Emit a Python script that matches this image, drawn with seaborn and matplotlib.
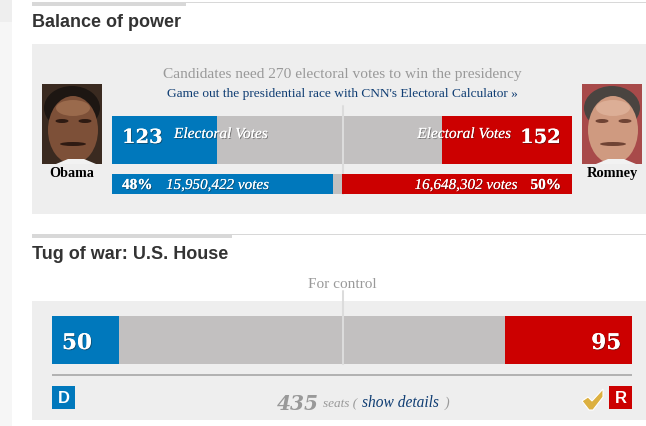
import matplotlib
matplotlib.use("Agg")
import matplotlib.pyplot as plt
import matplotlib.patheffects as pe
from matplotlib.patches import Rectangle, Ellipse, Polygon
import seaborn as sns

W, H = 646, 426

# values
candidates = ["Obama", "Romney"]
electoral_votes = [123, 152]
electoral_total = 538
electoral_needed = 270
popular_pct = [48, 50]
popular_total = 100
popular_votes = ["15,950,422 votes", "16,648,302 votes"]
house_seats = [50, 95]
house_total = 435
house_needed = 218

BLUE = "#0078bc"
RED = "#cc0000"
GREY = "#c2c0c0"
PANEL = "#eeeeee"
RULE = "#d8d8d8"
NAVY = "#0f3d73"
SERIF = "Liberation Serif"
NUMS = "DejaVu Serif"
SANS = "Liberation Sans"

sns.set_theme(style="white")
plt.rcParams["font.family"] = [SERIF, "DejaVu Serif"]

fig = plt.figure(figsize=(W / 100, H / 100), dpi=100, facecolor="white")


def px_axes(x, y, w, h, zorder):
    ax = fig.add_axes([x / W, 1 - (y + h) / H, w / W, h / H], zorder=zorder)
    ax.axis("off")
    return ax


def tug_bar(x, y, w, h, left, right, total):
    # painted back to front: red full length, grey up to red, blue on top
    ax = px_axes(x, y, w, h, 2)
    for val, col in [(total, RED), (total - right, GREY), (left, BLUE)]:
        sns.barplot(x=[val], y=["seats"], orient="h", color=col, saturation=1,
                    width=1, linewidth=0, ax=ax)
    ax.set_xlim(0, total)
    ax.set_ylim(0.5, -0.5)
    ax.axis("off")
    return ax


# page furniture in pixel coordinates
page = px_axes(0, 0, W, H, 0)
page.set_xlim(0, W)
page.set_ylim(H, 0)
for x0, y0, w0, h0, col in [
    (0, 0, 12, 426, "#f6f6f6"), (0, 0, 12, 22, "#eeeeee"),
    (32, 2, 614, 1, RULE), (32, 2, 154, 4, RULE),
    (32, 44, 614, 170, PANEL),
    (32, 234, 614, 1, RULE), (32, 234, 200, 4, RULE),
    (32, 301, 614, 119, PANEL),
    (52, 374, 580, 2, "#b2b2b2"),
]:
    page.add_patch(Rectangle((x0, y0), w0, h0, fc=col, ec="none"))

# bars
ev_ax = tug_bar(112, 116, 460, 48, electoral_votes[0], electoral_votes[1], electoral_total)
pop_ax = tug_bar(112, 174, 460, 20, popular_pct[0], popular_pct[1], popular_total)
house_ax = tug_bar(52, 316, 580, 48, house_seats[0], house_seats[1], house_total)

# threshold markers run past the bars
ev_ax.axvline(electoral_needed, ymin=-30 / 48, ymax=58 / 48, color="#dcdcdc", lw=1.45, clip_on=False)
house_ax.axvline(house_needed, ymin=0, ymax=73 / 48, color="#dcdcdc", lw=1.45, clip_on=False)

# text layer
top = px_axes(0, 0, W, H, 5)
top.set_xlim(0, W)
top.set_ylim(H, 0)
shadow = [pe.withSimplePatchShadow(offset=(0.7, -0.7), shadow_rgbFace="#222222", alpha=0.45), pe.Normal()]


def label(x, y, s, size, color="white", ha="left", weight="normal", style="normal",
          family=SERIF, fx=None):
    t = top.text(x, y, s, fontsize=size, color=color, ha=ha, va="baseline",
                 fontweight=weight, fontstyle=style, family=family)
    if fx:
        t.set_path_effects(fx)
    return t


label(32, 27, "Balance of power", 13, "#333333", weight="bold", family=SANS)
label(32, 259, "Tug of war: U.S. House", 13, "#333333", weight="bold", family=SANS)
label(342, 78, "Candidates need 270 electoral votes to win the presidency", 11.1, "#999999", ha="center")
label(342, 97, "Game out the presidential race with CNN's Electoral Calculator »", 9.6, NAVY, ha="center")
label(342, 288, "For control", 11, "#999999", ha="center")

label(122, 143, str(electoral_votes[0]), 14, weight="bold", family=NUMS, fx=shadow)
label(561, 143, str(electoral_votes[1]), 14, ha="right", weight="bold", family=NUMS, fx=shadow)
label(174, 138, "Electoral Votes", 11.1, style="italic", fx=shadow)
label(511, 138, "Electoral Votes", 11.1, ha="right", style="italic", fx=shadow)

label(122, 189, f"{popular_pct[0]}%", 11, weight="bold", fx=shadow)
label(561, 189, f"{popular_pct[1]}%", 11, ha="right", weight="bold", fx=shadow)
label(166, 189, popular_votes[0], 10.9, style="italic", fx=shadow)
label(518, 189, popular_votes[1], 10.9, ha="right", style="italic", fx=shadow)

label(62, 349, str(house_seats[0]), 15.5, weight="bold", family=NUMS, fx=shadow)
label(621, 349, str(house_seats[1]), 15.5, ha="right", weight="bold", family=NUMS, fx=shadow)

label(72, 177, candidates[0], 10.2, "black", ha="center", weight="bold")
label(612, 177, candidates[1], 10.4, "black", ha="center", weight="bold")

label(277, 410, str(house_total), 14.5, "#999999", weight="bold", style="italic", family=NUMS)
label(323, 407, "seats (", 9.5, "#999999", style="italic")
label(362, 407, "show details", 11.2, NAVY, style="italic")
label(445, 407, ")", 10, "#999999", style="italic")


# party chips
for x0, col, s in [(52, BLUE, "D"), (609, RED, "R")]:
    top.add_patch(Rectangle((x0, 386), 23, 23, fc=col, ec="none"))
    label(x0 + 11.5, 403, s, 12, ha="center", weight="bold", family=SANS)

# check mark for the House winner
top.add_patch(Polygon([(582, 401), (588, 397), (592, 401), (603, 389), (603, 397), (593, 410), (589, 410)],
                      fc="#dcb040", ec="white", lw=0.8))


# stand-ins for the two head shots
def portrait(x, y, bg, hair, skin, shade, light):
    frame = Rectangle((x, y), 60, 80, fc=bg, ec="none")
    top.add_patch(frame)
    parts = [
        Ellipse((x + 30, y + 24), 56, 44, fc=hair, ec="none"),
        Ellipse((x + 31, y + 46), 50, 68, fc=skin, ec="none"),
        Ellipse((x + 31, y + 24), 34, 16, fc=light, ec="none"),
        Ellipse((x + 20, y + 37), 13, 4, fc=shade, ec="none"),
        Ellipse((x + 43, y + 37), 13, 4, fc=shade, ec="none"),
        Ellipse((x + 31, y + 60), 26, 4, fc=shade, ec="none"),
        Polygon([(x + 14, y + 80), (x + 26, y + 75), (x + 42, y + 75), (x + 54, y + 80)], fc="#f2f2f2", ec="none"),
    ]
    for p in parts:
        top.add_patch(p)
        p.set_clip_path(frame)


portrait(42, 84, "#3a2a20", "#1d1612", "#7d5038", "#2e1a12", "#9a6a4c")
portrait(582, 84, "#a84a4a", "#4a4440", "#cf9a80", "#6f4334", "#dcae96")

fig.savefig("out.png", dpi=100)
